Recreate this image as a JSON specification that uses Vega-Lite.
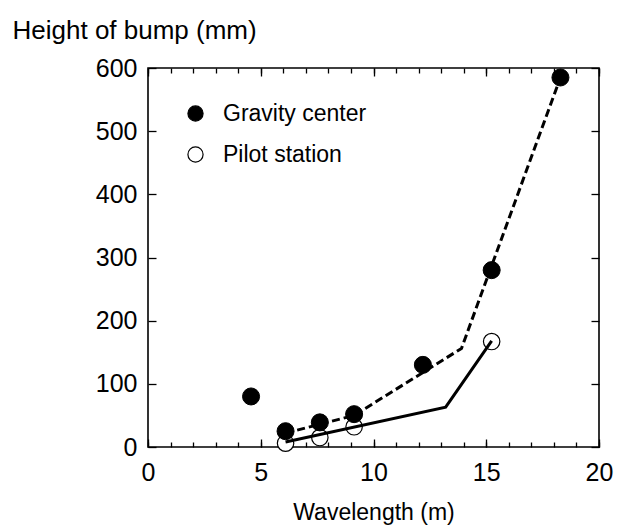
{
  "$schema": "https://vega.github.io/schema/vega-lite/v6.json",
  "autosize": "none",
  "width": 451,
  "height": 379,
  "padding": {"left": 148, "top": 68, "right": 18, "bottom": 80},
  "background": "white",
  "config": {
    "font": "Liberation Sans",
    "view": {"stroke": "black", "strokeWidth": 1.6},
    "axis": {
      "labelFont": "Liberation Sans",
      "titleFont": "Liberation Sans",
      "labelColor": "black",
      "titleColor": "black",
      "titleFontWeight": "normal",
      "tickColor": "black",
      "tickWidth": 1.3,
      "domain": false,
      "grid": false,
      "labelFontSize": 25
    }
  },
  "datasets": {
    "points": [
      {"wavelength": 6.1, "height": 6, "series": "Pilot station"},
      {"wavelength": 7.62, "height": 15, "series": "Pilot station"},
      {"wavelength": 9.14, "height": 32, "series": "Pilot station"},
      {"wavelength": 15.24, "height": 167, "series": "Pilot station"},
      {"wavelength": 4.57, "height": 80, "series": "Gravity center"},
      {"wavelength": 6.1, "height": 25, "series": "Gravity center"},
      {"wavelength": 7.62, "height": 39, "series": "Gravity center"},
      {"wavelength": 9.14, "height": 52, "series": "Gravity center"},
      {"wavelength": 12.19, "height": 130, "series": "Gravity center"},
      {"wavelength": 15.24, "height": 280, "series": "Gravity center"},
      {"wavelength": 18.29, "height": 585, "series": "Gravity center"}
    ],
    "gravityFit": [
      {"wavelength": 6.1, "height": 22},
      {"wavelength": 7.62, "height": 36},
      {"wavelength": 9.14, "height": 50},
      {"wavelength": 13.9, "height": 156},
      {"wavelength": 18.29, "height": 585}
    ],
    "pilotFit": [
      {"wavelength": 6.1, "height": 8},
      {"wavelength": 13.2, "height": 63},
      {"wavelength": 15.24, "height": 168}
    ]
  },
  "resolve": {
    "scale": {"x": "shared", "y": "shared", "fill": "shared"},
    "axis": {"x": "independent", "y": "independent"}
  },
  "layer": [
    {
      "data": {"name": "points"},
      "transform": [{"filter": "datum.series === 'Pilot station'"}],
      "mark": {"type": "point", "shape": "circle", "size": 270, "stroke": "black", "strokeWidth": 1.2, "opacity": 1, "filled": false},
      "encoding": {
        "x": {
          "field": "wavelength", "type": "quantitative",
          "scale": {"domain": [0, 20], "nice": false, "zero": false},
          "axis": {
            "orient": "bottom", "values": [0, 5, 10, 15, 20], "tickSize": -8,
            "labelPadding": 41, "labelBaseline": "alphabetic", "labelFlush": false, "labelDx": 3,
            "title": "Wavelength (m)", "titleFontSize": 23,
            "titleY": 72, "titleBaseline": "alphabetic"
          }
        },
        "y": {
          "field": "height", "type": "quantitative",
          "scale": {"domain": [0, 600], "nice": false},
          "axis": {
            "orient": "left", "values": [0, 100, 200, 300, 400, 500, 600], "tickSize": -8,
            "labelPadding": 19, "labelBaseline": "middle", "labelFlush": false,
            "title": "Height of bump (mm)", "titleFontSize": 26,
            "titleAngle": 0, "titleAlign": "left", "titleBaseline": "alphabetic",
            "titleX": -136, "titleY": -30
          }
        },
        "fill": {
          "field": "series", "type": "nominal",
          "scale": {"domain": ["Gravity center", "Pilot station"], "range": ["black", "white"]},
          "legend": {
            "orient": "none", "legendX": 36, "legendY": 34, "padding": 0,
            "title": null, "symbolType": "circle", "symbolSize": 230,
            "symbolStrokeColor": "black", "symbolStrokeWidth": 1.2, "symbolOpacity": 1,
            "labelFont": "Liberation Sans", "labelFontSize": 23, "labelColor": "black",
            "labelOffset": 16, "rowPadding": 17
          }
        }
      }
    },
    {
      "data": {"name": "points"},
      "transform": [{"filter": "datum.series === 'Gravity center'"}],
      "mark": {"type": "point", "shape": "circle", "size": 290, "stroke": "black", "strokeWidth": 1, "opacity": 1, "filled": true},
      "encoding": {
        "x": {
          "field": "wavelength", "type": "quantitative",
          "axis": {
            "orient": "bottom", "values": [0,1,2,3,4,5,6,7,8,9,10,11,12,13,14,15,16,17,18,19,20],
            "tickSize": -5, "labels": false, "title": null
          }
        },
        "y": {
          "field": "height", "type": "quantitative",
          "axis": {
            "orient": "right", "values": [0, 100, 200, 300, 400, 500, 600], "tickSize": -8,
            "labels": false, "title": null
          }
        },
        "fill": {"field": "series", "type": "nominal"}
      }
    },
    {
      "data": {"name": "gravityFit"},
      "mark": {"type": "line", "stroke": "black", "strokeWidth": 3, "strokeDash": [8, 4]},
      "encoding": {
        "x": {
          "field": "wavelength", "type": "quantitative",
          "axis": {"orient": "top", "values": [0, 5, 10, 15, 20], "tickSize": -8, "labels": false, "title": null}
        },
        "y": {"field": "height", "type": "quantitative", "axis": null}
      }
    },
    {
      "data": {"name": "pilotFit"},
      "mark": {"type": "line", "stroke": "black", "strokeWidth": 3},
      "encoding": {
        "x": {
          "field": "wavelength", "type": "quantitative",
          "axis": {
            "orient": "top", "values": [0,1,2,3,4,5,6,7,8,9,10,11,12,13,14,15,16,17,18,19,20],
            "tickSize": -5, "labels": false, "title": null
          }
        },
        "y": {"field": "height", "type": "quantitative", "axis": null}
      }
    }
  ]
}
